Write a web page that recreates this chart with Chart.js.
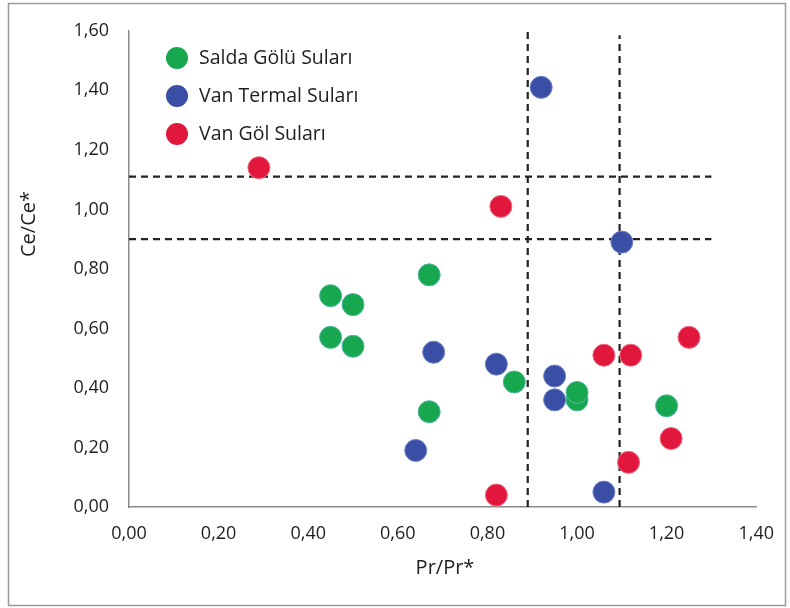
<!DOCTYPE html>
<html>
<head>
<meta charset="utf-8">
<script src="https://cdn.jsdelivr.net/npm/chart.js@4/dist/chart.umd.min.js"></script>
<style>
  html, body { margin: 0; padding: 0; background: #ffffff; }
  #wrap { width: 790px; height: 608px; }
</style>
</head>
<body>
<div id="wrap"><canvas id="c" width="790" height="608"></canvas></div>
<script>
// ---- data ----
const seriesNames = ['Salda Gölü Suları', 'Van Termal Suları', 'Van Göl Suları'];
const seriesColors = ['#17a84f', '#3a4ea5', '#e2173d'];

const saldaX = [0.45, 0.50, 0.45, 0.50, 0.67, 0.67, 0.86, 1.00, 1.00, 1.20];
const saldaY = [0.71, 0.68, 0.57, 0.54, 0.78, 0.32, 0.42, 0.36, 0.385, 0.34];

const vanTermalX = [0.92, 1.10, 0.68, 0.82, 0.95, 0.95, 0.64, 1.06];
const vanTermalY = [1.41, 0.89, 0.52, 0.48, 0.44, 0.36, 0.19, 0.05];

const vanGolX = [0.29, 0.83, 1.25, 1.06, 1.12, 1.21, 1.115, 0.82];
const vanGolY = [1.14, 1.01, 0.57, 0.51, 0.51, 0.23, 0.15, 0.04];

// reference (dashed) lines
const hLineY = [1.11, 0.90];
const hLineXEnd = 1.30;
const vLineX = [0.89, 1.095];
const vLineYEnd = [1.61, 1.585];

const xAxisTitle = 'Pr/Pr*';
const yAxisTitle = 'Ce/Ce*';
const xMin = 0, xMax = 1.4, yMin = 0, yMax = 1.6, tickStep = 0.2;

// ---- build datasets ----
function pts(xs, ys) { return xs.map((x, i) => ({ x: x, y: ys[i] })); }

const pointSets = [
  pts(saldaX, saldaY),
  pts(vanTermalX, vanTermalY),
  pts(vanGolX, vanGolY)
].map((d, i) => ({
  label: seriesNames[i],
  data: d,
  backgroundColor: seriesColors[i],
  borderColor: ['#4fb6a0', '#6f86c8', '#f06a80'][i],
  borderWidth: 1,
  pointRadius: 11,
  pointHoverRadius: 11,
  showLine: false,
  clip: false
}));

const lineStyle = {
  borderColor: '#222222',
  borderWidth: 2.2,
  borderDash: [7, 5],
  pointRadius: 0,
  showLine: true,
  fill: false,
  clip: false
};
const refSets = [];
hLineY.forEach(y => refSets.push(Object.assign({ label: 'h' + y, data: [{ x: xMin, y: y }, { x: hLineXEnd, y: y }] }, lineStyle)));
vLineX.forEach((x, i) => refSets.push(Object.assign({ label: 'v' + x, data: [{ x: x, y: yMin }, { x: x, y: vLineYEnd[i] }] }, lineStyle)));

const FONT = '"Open Sans", "Noto Sans", sans-serif';
const fmt = v => Number(v).toFixed(2).replace('.', ',');

// ---- plugins: frame, legend, axis titles ----
const decor = {
  id: 'decor',
  beforeDraw(chart) {
    const ctx = chart.ctx;
    ctx.save();
    ctx.fillStyle = '#ffffff';
    ctx.fillRect(0, 0, chart.width, chart.height);
    ctx.strokeStyle = '#9a9a9a';
    ctx.lineWidth = 1.5;
    ctx.strokeRect(8.5, 3.5, 777, 602);
    ctx.restore();
  },
  afterDraw(chart) {
    const ctx = chart.ctx;
    ctx.save();
    // legend
    ctx.font = '19.5px ' + FONT;
    ctx.textBaseline = 'middle';
    ctx.textAlign = 'left';
    seriesNames.forEach((name, i) => {
      const cy = 58 + i * 38;
      ctx.beginPath();
      ctx.arc(177, cy, 11, 0, Math.PI * 2);
      ctx.fillStyle = seriesColors[i];
      ctx.fill();
      ctx.fillStyle = '#1e1e1e';
      ctx.fillText(name, 199, cy);
    });
    // axis titles
    ctx.font = '20px ' + FONT;
    ctx.fillStyle = '#1e1e1e';
    ctx.textAlign = 'center';
    ctx.fillText(xAxisTitle, 445, 568);
    ctx.translate(29, 224);
    ctx.rotate(-Math.PI / 2);
    ctx.fillText(yAxisTitle, 0, 0);
    ctx.restore();
  }
};

new Chart(document.getElementById('c'), {
  type: 'scatter',
  data: { datasets: pointSets.concat(refSets) },
  plugins: [decor],
  options: {
    responsive: false,
    devicePixelRatio: 1,
    animation: false,
    layout: { padding: { top: 28, right: 33, left: 0, bottom: 0 } },
    plugins: {
      legend: { display: false },
      tooltip: { enabled: false }
    },
    scales: {
      x: {
        type: 'linear',
        min: xMin, max: xMax,
        grid: { display: false, drawTicks: false },
        border: { display: true, color: '#8a8a8a', width: 1.5 },
        ticks: {
          stepSize: tickStep,
          padding: 16,
          color: '#1e1e1e',
          font: { family: FONT, size: 18 },
          callback: v => fmt(v),
          maxRotation: 0
        },
        afterFit(scale) { scale.height = 101; }
      },
      y: {
        type: 'linear',
        min: yMin, max: yMax,
        grid: { display: false, drawTicks: false },
        border: { display: true, color: '#8a8a8a', width: 1.5 },
        ticks: {
          stepSize: tickStep,
          padding: 20,
          color: '#1e1e1e',
          font: { family: FONT, size: 18 },
          callback: v => fmt(v)
        },
        afterFit(scale) { scale.width = 129; }
      }
    }
  }
});
</script>
</body>
</html>
